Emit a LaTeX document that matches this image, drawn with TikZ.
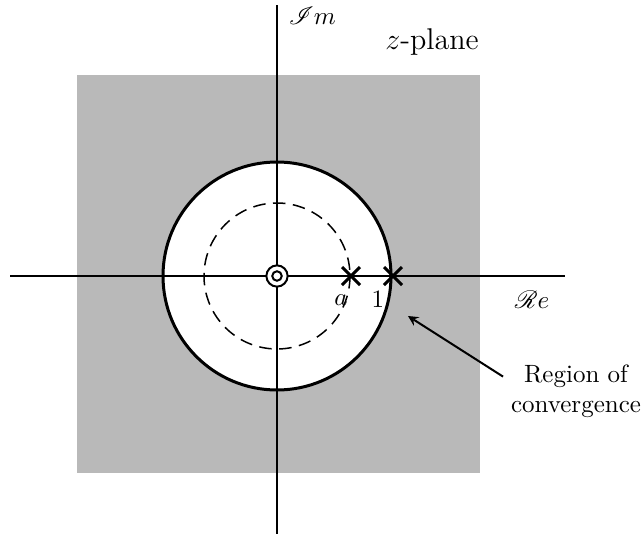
\documentclass[tikz,border=0pt]{standalone}
\usepackage{mathrsfs}
\usetikzlibrary{shapes.misc}

\tikzset{
    roc/.style={fill=gray!55},
    pole/.style={draw, cross out, line width=1.2pt, minimum size=6pt, inner sep=0pt},
    axis/.style={line width=0.8pt}
}

\begin{document}
\begin{tikzpicture}[x=0.4pt, y=-0.4pt, >=stealth]
        \useasboundingbox (0,0) rectangle (642,534);

        % -----------------------
        % Region of convergence (shaded)
        % -----------------------
        \fill[roc] (77,75) rectangle (480,473);
        \draw[line width=1.2pt, fill=white] (277,276) circle (114);
        \draw[dashed, line width=0.6pt, dash pattern=on 5pt off 3pt] (277,276) circle (73);

        % -----------------------
        % Axes
        % -----------------------
        \draw[axis] (10,276) -- (565,276);
        \draw[axis] (277,5) -- (277,534);
        \node[anchor=west] (im) at (280,16) {$\mathscr{I}m$};
        \node (re) at (532,300) {$\mathscr{R}e$};
        \node (plane) at (432,42) {\large $z$-plane};

        % -----------------------
        % Zero and poles
        % -----------------------
        \node[draw, circle, fill=white, line width=0.8pt, minimum size=8.5pt, inner sep=0pt] (zero) at (277,276) {};
        \node[draw, circle, line width=0.8pt, minimum size=3.8pt, inner sep=0pt] at (zero) {};
        \node[pole] (pa) at (351,276) {};
        \node[pole] (p1) at (393,276) {};
        \node (la) at (341,300) {$a$};
        \node (l1) at (378,299) {1};

        % -----------------------
        % Label with arrow
        % -----------------------
        \node[align=center, inner sep=1pt] (label) at (576,391) {Region of\\convergence};
        \coordinate (tip) at (408,316);
        \draw[->, line width=0.8pt] ([xshift=-2pt, yshift=-6pt]label.north west) -- (tip);

\end{tikzpicture}
\end{document}
